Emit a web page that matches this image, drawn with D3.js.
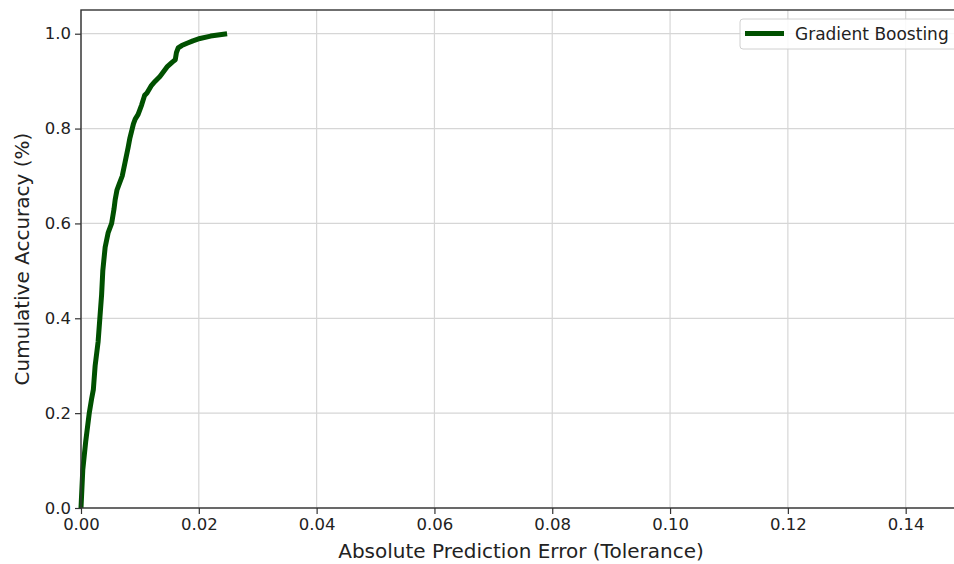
<!DOCTYPE html>
<html>
<head>
<meta charset="utf-8">
<script src="https://cdn.jsdelivr.net/npm/d3@7"></script>
<style>
  body { margin: 0; background: #fff; overflow: hidden; }
  svg { display: block; font-family: "DejaVu Sans", sans-serif; }
</style>
</head>
<body>
<script>
// cumulative accuracy curve
var seriesName = "Gradient Boosting";
var errorValues = [0, 0.0003, 0.0008, 0.0014, 0.0018, 0.0021, 0.0024, 0.0029, 0.0032, 0.0035, 0.0037,
                   0.0041, 0.0046, 0.0052, 0.0056, 0.0058, 0.0061, 0.0064, 0.0070, 0.0075, 0.0080, 0.0083,
                   0.0087, 0.0089, 0.0092, 0.0097, 0.0103, 0.0108, 0.0112, 0.0119, 0.0126, 0.0134, 0.0140,
                   0.0146, 0.0155, 0.0160, 0.0162, 0.0165, 0.0171, 0.0180, 0.0190, 0.0202, 0.0220, 0.0248];
var accuracyValues = [0, 0.08, 0.14, 0.20, 0.23, 0.25, 0.30, 0.35, 0.40, 0.45, 0.50,
                      0.55, 0.58, 0.60, 0.63, 0.65, 0.67, 0.68, 0.70, 0.73, 0.76, 0.78,
                      0.80, 0.81, 0.82, 0.83, 0.85, 0.87, 0.875, 0.89, 0.90, 0.91, 0.92,
                      0.93, 0.94, 0.945, 0.96, 0.97, 0.975, 0.98, 0.985, 0.99, 0.995, 1.0];
var xTicks = [0, 0.02, 0.04, 0.06, 0.08, 0.10, 0.12, 0.14];
var yTicks = [0, 0.2, 0.4, 0.6, 0.8, 1.0];

var width = 954, height = 564;
// plot box (the right edge runs past the window, as in the picture)
var mLeft = 81, mTop = 10, mRight = 964, mBottom = 508;

var svg = d3.select("body").append("svg")
    .attr("width", width)
    .attr("height", height);

var x = d3.scaleLinear().domain([0, 0.1499]).range([mLeft, mRight]);
var y = d3.scaleLinear().domain([0, 1.05]).range([mBottom, mTop]);

// grid
svg.append("g").selectAll("line")
  .data(xTicks).enter().append("line")
    .attr("x1", function(d) { return x(d); })
    .attr("x2", function(d) { return x(d); })
    .attr("y1", mTop).attr("y2", mBottom)
    .style("stroke", "#d6d6d6").style("stroke-width", 1.2);
svg.append("g").selectAll("line")
  .data(yTicks).enter().append("line")
    .attr("x1", mLeft).attr("x2", mRight)
    .attr("y1", function(d) { return y(d); })
    .attr("y2", function(d) { return y(d); })
    .style("stroke", "#d6d6d6").style("stroke-width", 1.2);

// the curve
var pts = errorValues.map(function(e, i) { return [e, accuracyValues[i]]; });
var line = d3.line()
    .x(function(d) { return x(d[0]); })
    .y(function(d) { return y(d[1]); });
svg.append("path")
    .datum(pts)
    .attr("d", line)
    .style("fill", "none")
    .style("stroke", "#005000")
    .style("stroke-width", 5)
    .style("stroke-linejoin", "round");

// axes
var xAxis = svg.append("g")
    .attr("transform", "translate(0," + mBottom + ")")
    .call(d3.axisBottom(x).tickValues(xTicks).tickFormat(d3.format(".2f")).tickSizeOuter(0).tickSize(6).tickPadding(4));
var yAxis = svg.append("g")
    .attr("transform", "translate(" + mLeft + ",0)")
    .call(d3.axisLeft(y).tickValues(yTicks).tickFormat(d3.format(".1f")).tickSizeOuter(0).tickSize(6).tickPadding(4));
[xAxis, yAxis].forEach(function(a) {
  a.select(".domain").remove();
  a.selectAll("text").style("font-size", "16.5px").style("fill", "#222").style("font-family", "DejaVu Sans");
  a.selectAll("line").style("stroke", "#333").style("stroke-width", 1.2);
});

// frame
svg.append("rect")
    .attr("x", mLeft).attr("y", mTop)
    .attr("width", mRight - mLeft).attr("height", mBottom - mTop)
    .style("fill", "none").style("stroke", "#333").style("stroke-width", 1.4);

// axis labels
svg.append("text")
    .attr("x", 521).attr("y", 558)
    .attr("text-anchor", "middle")
    .style("font-size", "20px").style("fill", "#222")
    .text("Absolute Prediction Error (Tolerance)");
svg.append("text")
    .attr("transform", "translate(29," + ((mTop + mBottom) / 2) + ") rotate(-90)")
    .attr("text-anchor", "middle")
    .style("font-size", "20px").style("fill", "#222")
    .text("Cumulative Accuracy (%)");

// legend
var lg = svg.append("g").attr("transform", "translate(740,19)");
lg.append("rect")
    .attr("width", 230).attr("height", 30).attr("rx", 3)
    .style("fill", "rgba(255,255,255,0.85)").style("stroke", "#d0d0d0");
lg.append("line")
    .attr("x1", 5).attr("x2", 44).attr("y1", 14.5).attr("y2", 14.5)
    .style("stroke", "#005000").style("stroke-width", 5);
lg.append("text")
    .attr("x", 55).attr("y", 20.5)
    .style("font-size", "17px").style("fill", "#222")
    .text(seriesName);
</script>
</body>
</html>
